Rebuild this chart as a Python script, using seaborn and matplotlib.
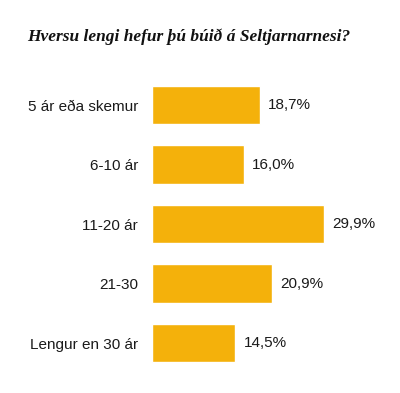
import pandas as pd
import seaborn as sns
import matplotlib.pyplot as plt

categories = ["5 ár eða skemur", "6-10 ár", "11-20 ár", "21-30", "Lengur en 30 ár"]
values = [18.7, 16.0, 29.9, 20.9, 14.5]
value_labels = ["18,7%", "16,0%", "29,9%", "20,9%", "14,5%"]
title = "Hversu lengi hefur þú búið á Seltjarnarnesi?"

df = pd.DataFrame({"cat": categories, "val": values})

sns.set_style("white")
plt.rcParams['font.family'] = ['Liberation Sans', 'DejaVu Sans']

fig = plt.figure(figsize=(4.0, 3.93), dpi=100)
ax = fig.add_axes([0.38, 0.0515, 0.62, 0.757])

sns.barplot(data=df, x="val", y="cat", color="#F4B10B", saturation=1,
            width=0.64, ax=ax)

for i, (v, lab) in enumerate(zip(values, value_labels)):
    ax.text(v + 1.45, i, lab, va="center", ha="left", fontsize=11, color="#1a1a1a")

ax.set_xlim(0, 43.13)
ax.set_ylim(4.5, -0.5)
ax.set_xlabel("")
ax.set_ylabel("")
ax.set_xticks([])
ax.tick_params(axis="y", length=0, pad=10, labelsize=11, labelcolor="#1a1a1a")
for s in ax.spines.values():
    s.set_visible(False)

fig.text(0.068, 0.907, title, fontsize=12.5, fontweight="bold", fontstyle="italic",
         family=["Liberation Serif", "DejaVu Serif"], color="#111111", va="center")

fig.savefig("out.png", dpi=100)
